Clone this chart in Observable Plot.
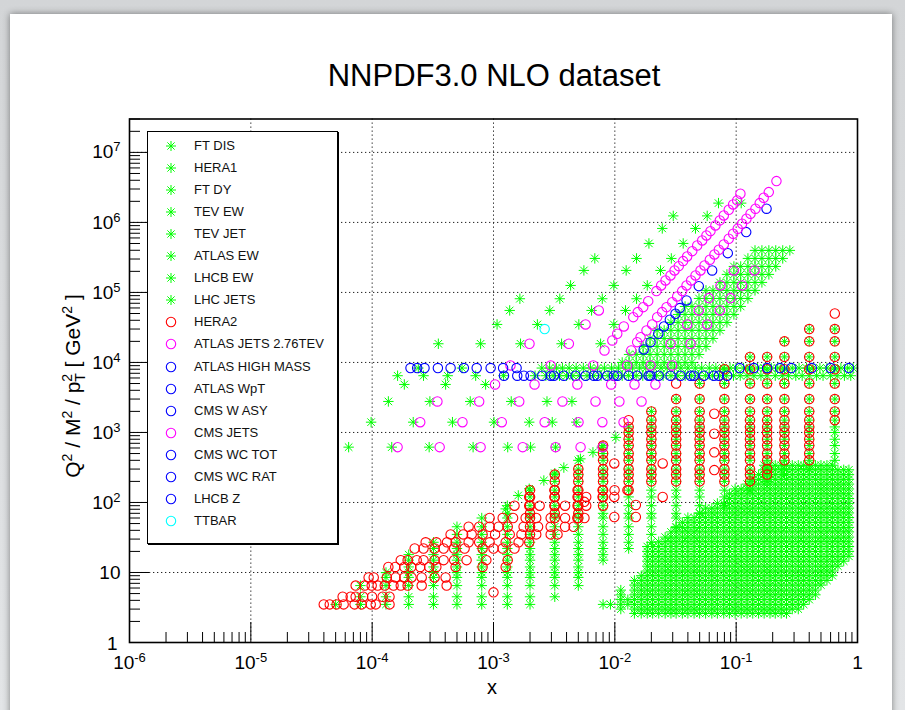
<!DOCTYPE html>
<html>
<head>
<meta charset="utf-8">
<script src="https://cdn.jsdelivr.net/npm/d3@7"></script>
<script src="https://cdn.jsdelivr.net/npm/@observablehq/plot@0.6"></script>
<style>
  html, body { margin: 0; padding: 0; }
  body { width: 905px; height: 710px; position: relative; overflow: hidden;
         background: linear-gradient(#d3d5d7, #e3e5e7); font-family: "Liberation Sans", Arial, Helvetica, sans-serif; }
  #panel { position: absolute; left: 10px; top: 14px; width: 882px; height: 720px; background: #fff;
           box-shadow: 0 0 7px rgba(0,0,0,0.45); }
  #chart { position: absolute; left: 0; top: 0; }
  #legend { position: absolute; left: 147px; top: 131px; width: 189px; height: 411px; background: #fff;
            border: 1px solid #000; box-shadow: 1px 1px 0 #000; }
  .item { position: absolute; left: 0; width: 185px; height: 16px; }
  .item svg { position: absolute; left: 16px; top: 1px; }
  .item span { position: absolute; left: 46px; top: 0; font-size: 13px; line-height: 16px; color: #111; white-space: nowrap; }
</style>
</head>
<body>
<div id="panel"></div>
<div id="chart"></div>
<div id="legend"></div>
<script>
// ---------------- legend / categories ----------------
const legendNames = ["FT DIS","HERA1","FT DY","TEV EW","TEV JET","ATLAS EW","LHCB EW","LHC JETS","HERA2",
  "ATLAS JETS 2.76TEV","ATLAS HIGH MASS","ATLAS WpT","CMS W ASY","CMS JETS","CMS WC TOT","CMS WC RAT","LHCB Z","TTBAR"];
const legendColors = ["#00ff00","#00ff00","#00ff00","#00ff00","#00ff00","#00ff00","#00ff00","#00ff00","#ff0000",
  "#ff00ff","#0000ff","#0000ff","#0000ff","#ff00ff","#0000ff","#0000ff","#0000ff","#00ffff"];
const legendShapes = ["star","star","star","star","star","star","star","star","circle",
  "circle","circle","circle","circle","circle","circle","circle","circle","circle"];

// ---------------- axes ----------------
const xTickValues = [1e-6, 1e-5, 1e-4, 1e-3, 1e-2, 1e-1, 1];
const xTickLabels = ["10^-6","10^-5","10^-4","10^-3","10^-2","10^-1","1"];
const yTickValues = [1, 10, 1e2, 1e3, 1e4, 1e5, 1e6, 1e7];
const yTickLabels = ["1","10","10^2","10^3","10^4","10^5","10^6","10^7"];
const xGrid = [1e-5, 1e-4, 1e-3, 1e-2, 1e-1];
const yGrid = [10, 1e2, 1e3, 1e4, 1e5, 1e6, 1e7];

// ---------------- FT DIS (dense fixed-target block) ----------------
const ftDisRows = [2.6, 3.0, 3.5, 4.1, 4.8, 5.6, 6.6, 7.7, 9.0, 10.5, 12.3, 14.5, 17, 20, 23.5, 27.5, 32, 38, 44,
  52, 61, 71, 83, 97, 114, 133, 156, 183, 214, 250, 293, 340];
const ftDisColumns = [
  [0.0080, 3.5, 3.5], [0.0092, 3.5, 3.5], [0.0112, 3.0, 5.6], [0.0128, 3.5, 4.1],
  [0.0145, 2.6, 7.7], [0.0165, 2.6, 9.0], [0.0185, 2.6, 23.5], [0.0205, 2.6, 23.5], [0.023, 2.6, 27.5],
  [0.026, 2.6, 32], [0.029, 2.6, 38], [0.032, 2.6, 44], [0.036, 2.6, 52], [0.040, 2.6, 61], [0.045, 2.6, 61],
  [0.050, 2.6, 71], [0.056, 2.6, 83], [0.063, 2.6, 83], [0.070, 2.6, 97], [0.079, 2.6, 97], [0.088, 2.6, 133],
  [0.098, 2.6, 156], [0.11, 2.6, 156], [0.123, 2.6, 183], [0.137, 2.6, 214], [0.153, 2.6, 250], [0.17, 2.6, 340],
  [0.19, 2.6, 340], [0.21, 2.6, 340], [0.235, 2.6, 340], [0.26, 2.6, 340], [0.29, 3.0, 340], [0.325, 3.0, 340],
  [0.36, 3.5, 340], [0.40, 4.1, 340], [0.45, 4.8, 340], [0.50, 6.6, 340], [0.56, 7.7, 340], [0.62, 9.0, 340],
  [0.69, 12.3, 293], [0.77, 14.5, 293], [0.85, 17, 293]
];

// ---------------- HERA bins ----------------
const heraQ2Bins = [3.5, 4.5, 6.5, 8.5, 10, 12, 15, 18, 22, 27, 35, 45, 60, 70, 90, 120, 150, 200, 250, 300, 400,
  500, 650, 800, 1000, 1200, 1500, 2000, 3000, 5000, 8000, 12000, 20000, 30000];
const hera1Columns = [
  [5.0e-5, 3.5, 3.5], [8.0e-5, 3.5, 6.5], [1.3e-4, 3.5, 10], [2.0e-4, 3.5, 18], [3.2e-4, 3.5, 27],
  [5.0e-4, 3.5, 45], [8.0e-4, 3.5, 60], [1.3e-3, 3.5, 90], [2.0e-3, 3.5, 150], [3.2e-3, 4.5, 250],
  [5.0e-3, 6.5, 400], [8.0e-3, 15, 650], [0.013, 22, 1200], [0.02, 27, 2000], [0.032, 45, 3000],
  [0.05, 70, 5000], [0.08, 90, 8000], [0.13, 150, 12000], [0.18, 200, 12000], [0.25, 250, 20000],
  [0.40, 300, 30000], [0.65, 400, 30000]
];
const hera2Columns = [
  [0.002, 35, 150], [0.0032, 60, 250], [0.005, 60, 300], [0.008, 90, 650], [0.013, 150, 1500],
  [0.02, 200, 2000], [0.032, 200, 5000], [0.05, 200, 5000], [0.08, 200, 8000], [0.13, 200, 12000],
  [0.18, 250, 12000], [0.25, 400, 20000], [0.40, 400, 30000], [0.65, 1500, 30000]
];
const hera2Rows = [
  [3.5, [3.99e-5, 4.47e-5, 5.09e-5, 5.82e-5, 7.16e-5, 8.19e-5, 9.73e-5, 1.07e-4, 1.39e-4]],
  [4.5, [5.71e-5, 6.65e-5, 7.31e-5, 8.43e-5, 9.98e-5, 1.22e-4, 1.39e-4]],
  [6.5, [7.31e-5, 8.68e-5, 9.91e-5, 1.11e-4, 1.27e-4, 1.50e-4, 1.72e-4, 1.96e-4, 2.56e-4, 4.11e-4]],
  [8.5, [9.35e-5, 1.03e-4, 1.32e-4, 1.56e-4, 1.84e-4, 2.11e-4, 2.56e-4, 3.27e-4, 4.03e-4]],
  [12, [1.36e-4, 1.55e-4, 1.84e-4, 2.10e-4, 2.49e-4, 2.95e-4, 3.38e-4, 4.87e-4, 8.13e-4, 1.26e-3]],
  [15, [1.72e-4, 1.96e-4, 2.33e-4, 2.65e-4, 3.27e-4, 3.88e-4, 4.74e-4, 6.0e-4, 8.73e-4, 1.31e-3]],
  [22, [2.24e-4, 2.65e-4, 3.27e-4, 3.88e-4, 4.74e-4, 5.78e-4, 8.13e-4, 1.0e-3, 1.19e-3, 1.49e-3]],
  [27, [2.76e-4, 3.38e-4, 4.14e-4, 4.87e-4, 6.24e-4, 7.62e-4, 9.29e-4, 1.26e-3, 1.61e-3, 1.97e-3]],
  [35, [4.43e-4, 5.62e-4, 6.61e-4, 8.13e-4, 1.03e-3, 1.36e-3, 1.70e-3, 2.25e-3, 2.96e-3, 3.37e-3]],
  [45, [6.24e-4, 7.62e-4, 9.29e-4, 1.10e-3, 1.31e-3, 1.77e-3, 2.33e-3, 2.96e-3, 3.89e-3, 4.57e-3]],
  [60, [9.29e-4, 1.19e-3, 1.45e-3, 1.84e-3, 2.25e-3, 2.96e-3, 3.89e-3, 4.91e-3, 5.62e-3]],
  [90, [1.49e-3, 1.97e-3, 2.40e-3, 3.18e-3, 3.89e-3, 4.93e-3, 5.81e-3]],
  [120, [1.97e-3, 3.18e-3, 4.93e-3, 5.81e-3, 7.93e-3]],
  [150, [3.18e-3, 4.93e-3, 7.93e-3, 9.95e-3, 0.0127]]
];
const hera2Extra = [[1.0e-3, 5.2], [5.6e-3, 102], [9.9e-3, 62], [9.9e-3, 120], [9.9e-3, 361], [0.0149, 62],
  [0.0149, 92], [0.0248, 120], [0.0248, 361], [0.066, 290], [0.066, 520], [0.066, 960], [0.066, 1850], [0.65, 50000]];

// ---------------- FT DY ----------------
const ftDyPoints = [[1.26e-3, 81], [1.6e-3, 126], [1.97e-3, 157], [2.6e-3, 206], [3.2e-3, 262], [3.8e-3, 315],
  [5.2e-3, 420], [6.6e-3, 520], [7.8e-3, 617], [0.0102, 850]];

// ---------------- electroweak bands ----------------
const zMassSq = 8315, wMassSq = 6464;
const tevEwX = [0.0025, 0.0029, 0.0033, 0.0037, 0.0042, 0.0048, 0.0055, 0.0063, 0.0072, 0.0082, 0.0094, 0.0107,
  0.0122, 0.014, 0.016, 0.018, 0.021, 0.024, 0.027, 0.031, 0.035, 0.04, 0.046, 0.052, 0.06, 0.068, 0.078, 0.089,
  0.10, 0.115, 0.13, 0.15, 0.17, 0.195, 0.22, 0.25, 0.29, 0.33, 0.38, 0.43, 0.49, 0.56, 0.64, 0.73, 0.83, 0.92];
const atlasEwX = [1.62e-4, 2.65e-4, 4.19e-4, 7.13e-4, 1.21e-3, 2.2e-3, 2.7e-3, 3.1e-3, 3.5e-3, 4.0e-3, 4.5e-3,
  5.1e-3, 5.9e-3, 6.7e-3, 7.7e-3, 8.8e-3, 0.010, 0.0115, 0.013, 0.015, 0.017, 0.0195, 0.022, 0.025, 0.029, 0.033,
  0.038, 0.043, 0.049, 0.056, 0.064, 0.073, 0.083, 0.095, 0.108, 0.123, 0.14, 0.16, 0.18, 0.21, 0.24, 0.27, 0.31,
  0.35, 0.40, 0.46, 0.52, 0.60, 0.68, 0.78, 0.88];
const lhcbEwX = [2.4e-4, 5.5e-4];
const lhcbZX = [2.07e-4, 2.35e-4, 2.70e-4, 3.48e-4, 4.43e-4, 5.70e-4, 7.27e-4, 9.47e-4, 1.20e-3, 1.55e-3,
  0.107, 0.14, 0.18, 0.23, 0.285, 0.42, 0.6, 0.85];
const cmsWasyX = [1.22e-3, 1.57e-3, 1.78e-3, 2.02e-3, 2.52e-3, 2.96e-3, 3.15e-3, 3.80e-3, 4.74e-3, 5.74e-3, 6.72e-3,
  7.16e-3, 8.66e-3, 9.81e-3, 0.0197, 0.0348, 0.0421, 0.0448, 0.0541, 0.0655, 0.0719, 0.0843];
const cmsWcTotX = [0.0105, 0.0190];
const cmsWcRatX = [0.0130, 0.0230];
const atlasWptX = [0.0153, 0.0288];

// ---------------- high mass DY ----------------
const atlasHighMass = [[0.0173, 15350], [0.0197, 19500], [0.0228, 25700], [0.0254, 32700], [0.0284, 40700],
  [0.0316, 49600], [0.0343, 59700], [0.0390, 76900], [0.0492, 1.23e5], [0.0634, 2.06e5], [0.0853, 3.64e5],
  [0.121, 7.27e5], [0.178, 1.57e6]];

// ---------------- jets ----------------
const atlasJets276 = [[8.22e-3, 14830], [9.53e-3, 20610], [0.01047, 25700], [0.01186, 32690], [0.01419, 44360],
  [0.01545, 52330], [0.01714, 61660], [0.01884, 75120], [0.02203, 1.045e5], [0.02409, 1.259e5], [0.02618, 1.484e5],
  [0.02877, 1.749e5], [0.03105, 2.063e5], [0.03365, 2.375e5], [0.03655, 2.801e5], [0.03945, 3.268e5],
  [0.04345, 3.890e5], [0.04775, 4.690e5], [0.05248, 5.530e5], [0.05689, 6.520e5], [0.06138, 7.510e5],
  [0.06745, 9.060e5], [0.07328, 1.069e6], [0.07907, 1.259e6], [0.08690, 1.518e6], [0.09441, 1.807e6],
  [0.1019, 2.063e6], [0.1084, 2.570e6]];
const cmsJetsLine = [[0.01365, 14830], [0.01528, 19500], [0.01629, 22970], [0.01824, 28640], [0.02032, 34910],
  [0.02234, 44360], [0.02455, 52330], [0.02667, 61660], [0.02972, 72630], [0.03266, 87700], [0.03589, 1.045e5],
  [0.03899, 1.259e5], [0.04256, 1.484e5], [0.04624, 1.749e5], [0.05082, 2.063e5], [0.05483, 2.431e5],
  [0.06067, 2.933e5], [0.06622, 3.490e5], [0.07194, 4.074e5], [0.07907, 4.850e5], [0.0869, 5.849e5],
  [0.0944, 6.899e5], [0.1030, 8.131e5], [0.1119, 9.580e5], [0.1216, 1.129e6], [0.1313, 1.331e6],
  [0.1442, 1.570e6], [0.1563, 1.887e6], [0.1686, 2.253e6], [0.1857, 2.710e6], [0.2148, 3.890e6]];
const cmsJetsGrid = [
  [617, [1.62e-4, 3.60e-4, 7.83e-4, 1.74e-3, 3.25e-3, 5.22e-3, 7.93e-3]],
  [1403, [2.49e-4, 5.55e-4, 1.17e-3, 2.64e-3, 5.02e-3, 7.89e-3, 0.0118]],
  [2773, [3.45e-4, 7.62e-4, 1.63e-3, 3.70e-3, 6.93e-3, 0.0109, 0.0166]],
  [4850, [1.03e-3, 2.18e-3, 4.91e-3, 9.33e-3, 0.01453, 0.0216]],
  [9060, [1.38e-3, 2.96e-3, 6.64e-3, 0.01265, 0.0197, 0.0297]],
  [18490, [1.98e-3, 4.18e-3, 0.0288, 0.0421]],
  [34910, [5.74e-3, 0.0395, 0.0577]],
  [55330, [7.38e-3, 0.0492, 0.0733]],
  [83000, [0.0595, 0.0899]],
  [1.259e5, [0.0743, 0.112]],
  [2.063e5, [0.0955, 0.1416]]
];
const tevJetGrid = [
  [617, [6.40e-5, 1.45e-4, 2.95e-4, 6.79e-4, 1.31e-3, 2.02e-3, 3.25e-3]],
  [1403, [9.80e-5, 2.18e-4, 4.59e-4, 1.01e-3, 1.97e-3, 3.05e-3, 4.81e-3]],
  [2773, [1.36e-4, 2.99e-4, 6.43e-4, 1.40e-3, 2.76e-3, 4.43e-3]],
  [4850, [1.84e-4, 4.03e-4, 8.61e-4]],
  [18490, [3.51e-4, 7.83e-4, 1.67e-3, 3.64e-3, 7.63e-3]],
  [34910, [1.07e-3, 2.30e-3, 5.05e-3, 9.81e-3]],
  [55330, [1.36e-3, 2.91e-3, 6.43e-3, 0.01225]],
  [81280, [1.65e-3, 3.52e-3, 7.88e-3, 0.0151]],
  [1.259e5, [4.32e-3, 9.81e-3, 0.0185]],
  [2.063e5, [5.56e-3, 0.0124, 0.0238]],
  [3.06e5, [6.84e-3, 0.0151, 0.0292]],
  [5.01e5, [0.0191, 0.0366]],
  [8.2e5, [0.0246, 0.0462]],
  [1.24e6, [0.0303, 0.0577]],
  [1.887e6, [0.0715, 0.110]]
];
const lhcJetXs = [0.0101, 0.0115, 0.0131, 0.015, 0.0171, 0.0195, 0.0223, 0.0255, 0.029, 0.0332, 0.0379, 0.0432,
  0.0494, 0.0564, 0.0644, 0.0735, 0.0839, 0.0958, 0.109, 0.125, 0.143, 0.163, 0.186, 0.212, 0.242, 0.277, 0.316];
const lhcJetRows = [[3.985e5, 0.137, 0.30], [3.06e5, 0.113, 0.267], [2.35e5, 0.094, 0.235], [1.81e5, 0.0785, 0.205],
  [1.39e5, 0.0656, 0.18], [1.07e5, 0.0546, 0.157], [8.2e4, 0.0454, 0.137], [6.3e4, 0.0377, 0.12],
  [4.85e4, 0.0315, 0.105], [3.73e4, 0.0262, 0.0916], [2.87e4, 0.0218, 0.0801], [2.2e4, 0.0182, 0.07],
  [1.69e4, 0.0152, 0.0612], [1.3e4, 0.0126, 0.0535], [1.0e4, 0.0105, 0.0468]];

// ---------------- top pairs ----------------
const ttbarPoints = [[2.64e-3, 3.0e4]];

// ================= build point tables =================
function fromColumns(cols, rows) {
  const out = [];
  for (const [x, lo, hi] of cols) for (const q of rows) if (q >= lo * 0.999 && q <= hi * 1.001) out.push({x, q});
  return out;
}
function fromRows(rows) {
  const out = [];
  for (const [q, xs] of rows) for (const x of xs) out.push({x, q});
  return out;
}
function fromRowRanges(rows, xs) {
  const out = [];
  for (const [q, lo, hi] of rows) for (const x of xs) if (x >= lo * 0.999 && x <= hi * 1.001) out.push({x, q});
  return out;
}
const pairs = (arr) => arr.map(([x, q]) => ({x, q}));
const atQ = (xs, q) => xs.map(x => ({x, q}));

const series = {
  "FT DIS": fromColumns(ftDisColumns, ftDisRows),
  "HERA1": fromColumns(hera1Columns, heraQ2Bins),
  "FT DY": pairs(ftDyPoints),
  "TEV EW": atQ(tevEwX, zMassSq),
  "TEV JET": fromRows(tevJetGrid),
  "ATLAS EW": atQ(atlasEwX, wMassSq),
  "LHCB EW": atQ(lhcbEwX, zMassSq),
  "LHC JETS": fromRowRanges(lhcJetRows, lhcJetXs),
  "HERA2": fromColumns(hera2Columns, heraQ2Bins).concat(fromRows(hera2Rows), pairs(hera2Extra)),
  "ATLAS JETS 2.76TEV": pairs(atlasJets276),
  "ATLAS HIGH MASS": pairs(atlasHighMass),
  "ATLAS WpT": atQ(atlasWptX, wMassSq),
  "CMS W ASY": atQ(cmsWasyX, wMassSq),
  "CMS JETS": pairs(cmsJetsLine).concat(fromRows(cmsJetsGrid)),
  "CMS WC TOT": atQ(cmsWcTotX, wMassSq),
  "CMS WC RAT": atQ(cmsWcRatX, wMassSq),
  "LHCB Z": atQ(lhcbZX, zMassSq),
  "TTBAR": pairs(ttbarPoints)
};

// ROOT-like "*" marker (marker style 3)
const starSymbol = {
  draw(ctx, size) {
    const r = Math.sqrt(size / Math.PI);
    const d = r * 0.72;
    ctx.moveTo(-r, 0); ctx.lineTo(r, 0);
    ctx.moveTo(0, -r); ctx.lineTo(0, r);
    ctx.moveTo(-d, -d); ctx.lineTo(d, d);
    ctx.moveTo(-d, d); ctx.lineTo(d, -d);
  }
};

const dataMarks = legendNames.map((name, i) => legendShapes[i] === "star"
  ? Plot.dot(series[name], {x: "x", y: "q", symbol: starSymbol, r: 5.2, stroke: legendColors[i], strokeWidth: 1, fill: "none"})
  : Plot.dot(series[name], {x: "x", y: "q", symbol: "circle", r: 4.7, stroke: legendColors[i], strokeWidth: 1.1, fill: "none"}));

const xMinor = [], yMinor = [];
for (let e = -6; e < 0; e++) for (let m = 2; m <= 9; m++) xMinor.push(m * Math.pow(10, e));
for (let e = 0; e <= 7; e++) for (let m = 2; m <= 9; m++) { const v = m * Math.pow(10, e); if (v <= 3e7) yMinor.push(v); }

const labelOf = (vals, labels) => (d) => { const i = vals.findIndex(v => Math.abs(Math.log10(v) - Math.log10(d)) < 1e-6); return i >= 0 ? labels[i] : ""; };

const chart = Plot.plot({
  width: 905, height: 710,
  marginLeft: 129, marginRight: 48, marginTop: 118.5, marginBottom: 68,
  style: {background: "transparent", fontFamily: "Liberation Sans, Arial, Helvetica, sans-serif", color: "#000"},
  x: {type: "log", domain: [1e-6, 1], label: null},
  y: {type: "log", domain: [1, 3e7], label: null},
  marks: [
    Plot.ruleX(xGrid, {stroke: "#222", strokeWidth: 1, strokeDasharray: "1.3,2.7"}),
    Plot.ruleY(yGrid, {stroke: "#222", strokeWidth: 1, strokeDasharray: "1.3,2.7"}),
    ...dataMarks,
    Plot.axisX(xMinor, {anchor: "bottom", tickSize: 10, dy: -10, fill: "none", label: null}),
    Plot.axisX(xGrid, {anchor: "bottom", tickSize: 20, dy: -20, fill: "none", label: null}),
    Plot.axisY(yMinor, {anchor: "left", tickSize: 11, dx: 11, fill: "none", label: null}),
    Plot.axisY(yGrid, {anchor: "left", tickSize: 20, dx: 20, fill: "none", label: null}),
    Plot.axisX(xTickValues, {anchor: "bottom", tickSize: 0, tickPadding: 13, fontSize: 19, tickFormat: labelOf(xTickValues, xTickLabels), label: null}),
    Plot.axisY(yTickValues, {anchor: "left", tickSize: 0, tickPadding: 9, fontSize: 19, tickFormat: labelOf(yTickValues, yTickLabels), label: null}),
    Plot.frame({stroke: "#000", strokeWidth: 1.6})
  ]
});
document.getElementById("chart").appendChild(chart);

const svg = d3.select(chart);
// superscript exponents on tick labels
svg.selectAll('[aria-label="x-axis tick label"] text, [aria-label="y-axis tick label"] text').each(function () {
  const t = this.textContent;
  if (!t.includes("^")) return;
  const [base, exp] = t.split("^");
  const sel = d3.select(this);
  sel.text(null);
  sel.append("tspan").text(base);
  sel.append("tspan").attr("dy", "-7").attr("font-size", "13").text(exp);
});
// the lone "1" on the y axis sits a little higher and further left, clear of 10^-6
svg.selectAll('[aria-label="y-axis tick label"] text').filter(function () { return this.textContent === "1"; })
  .attr("dy", "0.1em").attr("dx", "-3");

// title
svg.append("text").attr("x", 494).attr("y", 86).attr("text-anchor", "middle")
  .attr("font-size", 31).attr("fill", "#000").text("NNPDF3.0 NLO dataset");
// x title
svg.append("text").attr("x", 492).attr("y", 694).attr("text-anchor", "middle")
  .attr("font-size", 20).attr("fill", "#000").text("x");
// y title: Q^2 / M^2 / p_T^2 [ GeV^2 ]
const yt = svg.append("text").attr("transform", "translate(80,386) rotate(-90)")
  .attr("text-anchor", "middle").attr("font-size", 21).attr("fill", "#000");
yt.append("tspan").text("Q");
yt.append("tspan").attr("dy", -8).attr("font-size", 14).text("2");
yt.append("tspan").attr("dy", 8).text(" / M");
yt.append("tspan").attr("dy", -8).attr("font-size", 14).text("2");
yt.append("tspan").attr("dy", 8).text(" / p");
yt.append("tspan").attr("dy", -8).attr("font-size", 14).text("2");
yt.append("tspan").attr("dx", -8).attr("dy", 13).attr("font-size", 14).text("T");
yt.append("tspan").attr("dy", -5).text(" [ GeV");
yt.append("tspan").attr("dy", -8).attr("font-size", 14).text("2");
yt.append("tspan").attr("dy", 8).text(" ]");

// legend
const legend = document.getElementById("legend");
legendNames.forEach((name, i) => {
  const item = document.createElement("div");
  item.className = "item";
  item.style.top = (5.7 + 22.08 * i) + "px";
  const c = legendColors[i];
  const mk = legendShapes[i] === "star"
    ? `<path d="M2,7H12M7,2V12M3.4,3.4L10.6,10.6M3.4,10.6L10.6,3.4" stroke="${c}" stroke-width="1" fill="none"/>`
    : `<circle cx="7" cy="7" r="4.7" stroke="${c}" stroke-width="1.1" fill="none"/>`;
  item.innerHTML = `<svg width="14" height="14">${mk}</svg><span>${name}</span>`;
  legend.appendChild(item);
});
</script>
</body>
</html>
